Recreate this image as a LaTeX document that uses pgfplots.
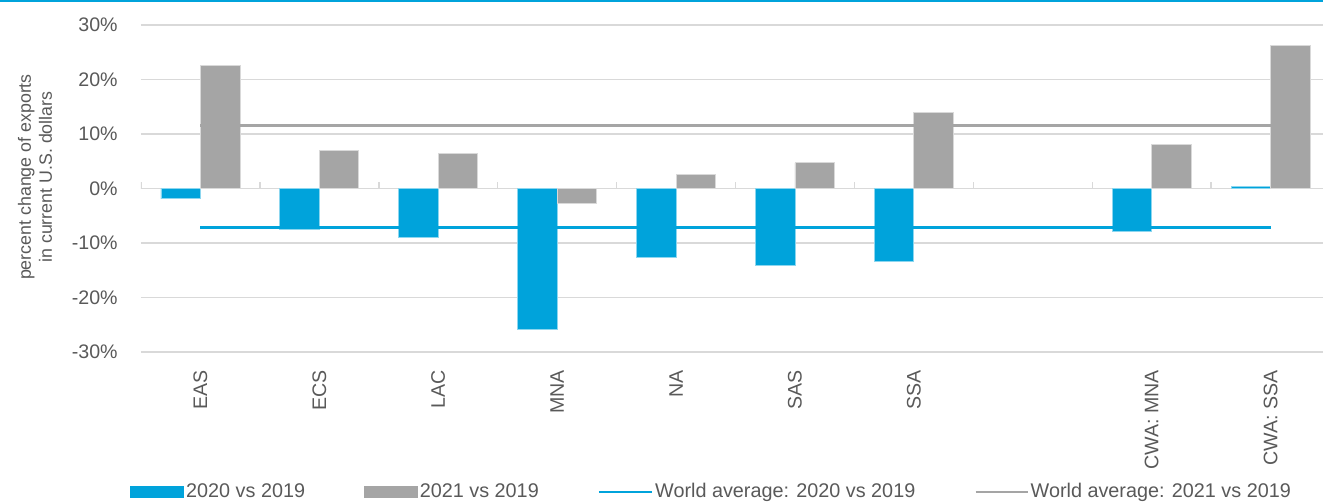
\documentclass[border=0pt]{standalone}
\usepackage{pgfplots}
\pgfplotsset{compat=1.18}
\usepackage{fontspec}
\setmainfont{Liberation Sans}

\definecolor{wbblue}{HTML}{00A3DB}
\definecolor{wbgray}{HTML}{A5A5A5}
\definecolor{txt}{HTML}{595959}
\definecolor{gridc}{HTML}{D9D9D9}

\begin{document}
\begin{tikzpicture}
\path[use as bounding box] (0,0) rectangle (661.5pt,251.5pt);
\draw[wbblue, line width=1pt] (0,251pt) -- (661.5pt,251pt);
\begin{axis}[
    at={(70.5pt,75.5pt)}, anchor=south west,
    scale only axis,
    width=594.5pt, height=163.5pt,
    xmin=-0.5, xmax=9.5,
    ymin=-30, ymax=30,
    xtick={0,...,9},
    xticklabels={EAS,ECS,LAC,MNA,NA,SAS,SSA,{},CWA: MNA,CWA: SSA},
    ytick={-30,-20,...,30},
    yticklabels={-30\%,-20\%,-10\%,0\%,10\%,20\%,30\%},
    axis line style={draw=none},
    tick style={draw=none},
    major tick length=0pt,
    ymajorgrids,
    major grid style={gridc, line width=0.8pt},
    yticklabel style={font=\fontsize{9.8}{11}\selectfont, text=txt, anchor=east, inner sep=0pt, xshift=-11.5pt},
    xticklabel style={font=\fontsize{9.8}{11}\selectfont, text=txt, rotate=90, anchor=east, inner sep=0pt},
    xticklabel shift=9pt,
    ylabel={percent change of exports\\in current U.S. dollars},
    every axis y label/.style={at={(rel axis cs:-0.0891,0.535)}, anchor=center, rotate=90, align=center,
        font=\fontsize{8.9}{10.5}\selectfont, text=txt},
    legend columns=4,
    legend cell align=left,
    legend style={at={(rel axis cs:-0.00925,-0.428)}, anchor=west, draw=none, fill=none,
        inner sep=0pt, column sep=0pt, nodes={inner sep=1pt},
        font=\fontsize{9.9}{11}\selectfont, text=txt,
        /tikz/every even column/.append style={column sep=28.5pt}},
]

% zero line and category ticks
\draw[gridc, line width=0.9pt] (rel axis cs:0,0.5) -- (rel axis cs:1,0.5);
\pgfplotsinvokeforeach{-0.5,0.5,1.5,2.5,3.5,4.5,5.5,6.5,7.5,8.5,9.5}{
    \draw[gridc, line width=0.7pt] (axis cs:#1,0) -- ++(0pt,3.5pt);
}

% 2020 vs 2019
\addplot[ybar, bar width=19.75pt, bar shift=-9.875pt, fill=wbblue, draw=wbblue!45!white, line width=0.4pt,
    legend image code/.code={\fill[wbblue] (0pt,-2.75pt) rectangle (26.5pt,2.75pt);}]
coordinates {(0,-1.9) (1,-7.5) (2,-8.9) (3,-25.8) (4,-12.7) (5,-14.2) (6,-13.4) (8,-7.8) (9,0.3)};
\addlegendentry{2020 vs 2019}

% 2021 vs 2019
\addplot[ybar, bar width=19.75pt, bar shift=9.875pt, fill=wbgray, draw=gridc, line width=0.4pt,
    legend image code/.code={\fill[wbgray] (0pt,-2.75pt) rectangle (26.5pt,2.75pt);}]
coordinates {(0,22.5) (1,7.0) (2,6.5) (3,-2.7) (4,2.6) (5,4.7) (6,14.0) (8,8.1) (9,26.2)};
\addlegendentry{2021 vs 2019}

% world averages
\addplot[wbblue, line width=1.5pt, mark=none,
    legend image code/.code={\draw[wbblue, line width=1.2pt] (0pt,0pt) -- (26.5pt,0pt);}]
coordinates {(0,-7.15) (1,-7.15) (2,-7.15) (3,-7.15) (4,-7.15) (5,-7.15) (6,-7.15) (7,-7.15) (8,-7.15) (9,-7.15)};
\addlegendentry{World average: 2020 vs 2019}

\addplot[wbgray, line width=1.5pt, mark=none,
    legend image code/.code={\draw[wbgray, line width=1.2pt] (0pt,0pt) -- (26pt,0pt);}]
coordinates {(0,11.55) (1,11.55) (2,11.55) (3,11.55) (4,11.55) (5,11.55) (6,11.55) (7,11.55) (8,11.55) (9,11.55)};
\addlegendentry{World average: 2021 vs 2019}

\end{axis}
\end{tikzpicture}
\end{document}
